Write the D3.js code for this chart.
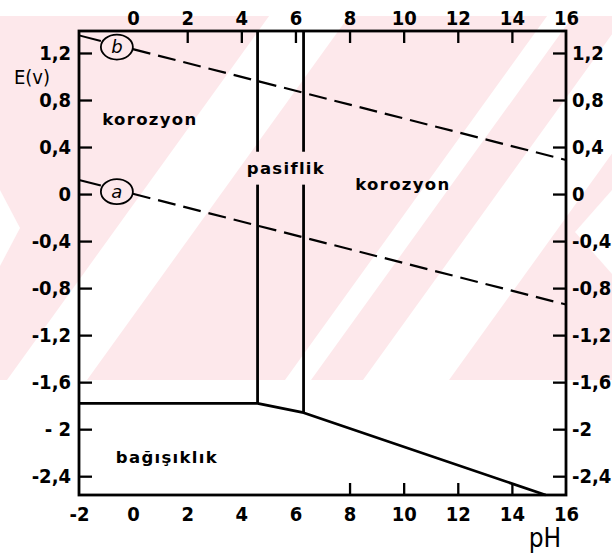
<!DOCTYPE html>
<html>
<head>
<meta charset="utf-8">
<script src="https://cdn.jsdelivr.net/npm/d3@7"></script>
<style>
  body { margin: 0; background: #fff; }
  svg { display: block; }
  .tick text { font-family: "DejaVu Sans Condensed", "DejaVu Sans", sans-serif; font-stretch: condensed; font-weight: bold; font-size: 20px; fill: #000; }
  .region { font-family: "DejaVu Sans", sans-serif; font-weight: bold; font-size: 16.5px; letter-spacing: 1.3px; fill: #000; }
  .axis-title { font-family: "DejaVu Sans Condensed", "DejaVu Sans", sans-serif; font-stretch: condensed; fill: #000; }
</style>
</head>
<body>
<svg id="chart" width="612" height="553"></svg>
<script>
// pH axis ticks (top and bottom)
const phTopLabels = [0, 2, 4, 6, 8, 10, 12, 14, 16];
const phTopMarks = [2, 4, 6, 8, 10, 12, 14];
const phBottomLabels = [-2, 0, 2, 4, 6, 8, 10, 12, 14, 16];
const phBottomMarks = [8, 10, 12, 14];

// potential axis ticks E (V)
const eTicks = [1.2, 0.8, 0.4, 0, -0.4, -0.8, -1.2, -1.6, -2, -2.4];
const eLabelsLeft = ["1,2", "0,8", "0,4", "0", "-0,4", "-0,8", "-1,2", "-1,6", "- 2", "-2,4"];
const eLabelsRight = ["1,2", "0,8", "0,4", "0", "-0,4", "-0,8", "-1,2", "-1,6", "-2", "-2,4"];

// water stability lines: (b) oxygen, (a) hydrogen
const lineB = [{ pH: -2, E: 1.35 }, { pH: 16, E: 0.29 }];
const lineA = [{ pH: -2, E: 0.12 }, { pH: 16, E: -0.94 }];

// immunity boundary
const immunityBoundary = [
  { pH: -2, E: -1.78 }, { pH: 4.6, E: -1.78 }, { pH: 6.3, E: -1.86 }, { pH: 15.25, E: -2.56 }
];

// passivity limits (vertical lines)
const passiveLimits = [
  { pH: 4.6, Ebottom: -1.78 },
  { pH: 6.3, Ebottom: -1.86 }
];
const passiveLabelGap = [0.36, 0.08];

// region names
const regionNames = ["korozyon", "pasiflik", "korozyon", "bağışıklık"];
const regionPH = [0.62, 5.65, 9.97, 1.25];
const regionE = [0.63, 0.22, 0.08, -2.24];

// circled line markers
const markerNames = ["b", "a"];
const markerPH = -0.6;

const svg = d3.select("#chart");
const W = 612, H = 553;
const margin = { left: 79, right: 46, top: 31, bottom: 58 };

const x = d3.scaleLinear().domain([-2, 16]).range([margin.left, W - margin.right]);
const y = d3.scaleLinear().domain([-2.56, 1.387]).range([H - margin.bottom, margin.top]);

// pale striped background band
const wm = svg.append("g");
wm.append("clipPath").attr("id", "wmclip")
  .append("rect").attr("x", 0).attr("y", 16).attr("width", W).attr("height", 364);
const wmg = wm.append("g").attr("clip-path", "url(#wmclip)");
wmg.append("rect").attr("x", 0).attr("y", 16).attr("width", W).attr("height", 364).attr("fill", "#fde8eb");
const slope = 0.72;
[[47, 80], [298, 26], [406, 86]].forEach(([bx, w]) => {
  const pts = [[bx - w / 2, 380], [bx + w / 2, 380], [bx + w / 2 + slope * 364, 16], [bx - w / 2 + slope * 364, 16]];
  wmg.append("polygon").attr("points", pts.map(p => p.join(",")).join(" ")).attr("fill", "#fff");
});
wmg.append("polygon").attr("points", "0,190 20,228 0,266").attr("fill", "#fff");
wmg.append("polygon").attr("points", "612,190 575,232 612,274").attr("fill", "#fff");

const ink = "#000";

// frame
svg.append("rect")
  .attr("x", x(-2)).attr("y", y(1.387))
  .attr("width", x(16) - x(-2)).attr("height", y(-2.56) - y(1.387))
  .attr("fill", "none").attr("stroke", ink).attr("stroke-width", 2.8);

function styleAxis(g) {
  g.select(".domain").remove();
  g.selectAll(".tick line").attr("stroke", ink).attr("stroke-width", 2.3);
}

// top axis labels + marks
svg.append("g").attr("transform", `translate(0,${y(1.387)})`)
  .call(d3.axisTop(x).tickValues(phTopLabels).tickSize(0).tickPadding(6).tickFormat(d => d))
  .call(styleAxis);
svg.append("g").attr("transform", `translate(0,${y(1.387)})`)
  .call(d3.axisTop(x).tickValues(phTopMarks).tickSize(-12).tickFormat(""))
  .call(styleAxis);

// bottom axis labels + marks
svg.append("g").attr("transform", `translate(0,${y(-2.56)})`)
  .call(d3.axisBottom(x).tickValues(phBottomLabels).tickSize(0).tickPadding(12).tickFormat(d => d))
  .call(styleAxis);
svg.append("g").attr("transform", `translate(0,${y(-2.56)})`)
  .call(d3.axisBottom(x).tickValues(phBottomMarks).tickSize(-12).tickFormat(""))
  .call(styleAxis);

// left and right potential axes, ticks pointing inward
svg.append("g").attr("transform", `translate(${x(-2)},0)`)
  .call(d3.axisLeft(y).tickValues(eTicks).tickSize(-13).tickPadding(8)
    .tickFormat((d, i) => eLabelsLeft[i]))
  .call(styleAxis);
svg.append("g").attr("transform", `translate(${x(16)},0)`)
  .call(d3.axisRight(y).tickValues(eTicks).tickSize(-13).tickPadding(6)
    .tickFormat((d, i) => eLabelsRight[i]))
  .call(styleAxis);

// axis titles
svg.append("text").attr("class", "axis-title").attr("x", 32).attr("y", 84)
  .attr("text-anchor", "middle").attr("font-size", 20).text("E(v)");
svg.append("text").attr("class", "axis-title").attr("x", 545).attr("y", 547)
  .attr("text-anchor", "middle").attr("font-size", 26).text("pH");

const line = d3.line().x(d => x(d.pH)).y(d => y(d.E));
const interp = (ln, p) => {
  const t = (p - ln[0].pH) / (ln[1].pH - ln[0].pH);
  return { pH: p, E: ln[0].E + t * (ln[1].E - ln[0].E) };
};

// water lines, broken by circled marker
const rPH = 16 / (x(1) - x(0));
[lineB, lineA].forEach((ln, i) => {
  const left = [ln[0], interp(ln, markerPH - rPH)];
  const right = [interp(ln, markerPH + rPH), ln[1]];
  svg.append("path").attr("d", line(left)).attr("fill", "none")
    .attr("stroke", ink).attr("stroke-width", 2);
  svg.append("path").attr("d", line(right)).attr("fill", "none")
    .attr("stroke", ink).attr("stroke-width", 2.2).attr("stroke-dasharray", "18,8");
  const c = interp(ln, markerPH);
  svg.append("ellipse").attr("cx", x(c.pH)).attr("cy", y(c.E) + 2)
    .attr("rx", 16).attr("ry", 12.5).attr("fill", "none")
    .attr("stroke", ink).attr("stroke-width", 1.8);
  svg.append("text").attr("x", x(c.pH)).attr("y", y(c.E) + 8)
    .attr("text-anchor", "middle").attr("font-family", "DejaVu Sans, sans-serif")
    .attr("font-style", "italic").attr("font-size", 18).attr("fill", ink)
    .text(markerNames[i]);
});

// immunity boundary
svg.append("path").attr("d", line(immunityBoundary)).attr("fill", "none")
  .attr("stroke", ink).attr("stroke-width", 2.8).attr("stroke-linejoin", "round");

// passivity limits, interrupted by the region name
passiveLimits.forEach(p => {
  svg.append("path").attr("d", line([{ pH: p.pH, E: 1.387 }, { pH: p.pH, E: passiveLabelGap[0] }]))
    .attr("stroke", ink).attr("stroke-width", 2.8);
  svg.append("path").attr("d", line([{ pH: p.pH, E: passiveLabelGap[1] }, { pH: p.pH, E: p.Ebottom }]))
    .attr("stroke", ink).attr("stroke-width", 2.8);
});

// region names
regionNames.forEach((t, i) => {
  svg.append("text").attr("class", "region")
    .attr("x", x(regionPH[i])).attr("y", y(regionE[i]))
    .attr("text-anchor", "middle").attr("dominant-baseline", "central")
    .text(t);
});
</script>
</body>
</html>
